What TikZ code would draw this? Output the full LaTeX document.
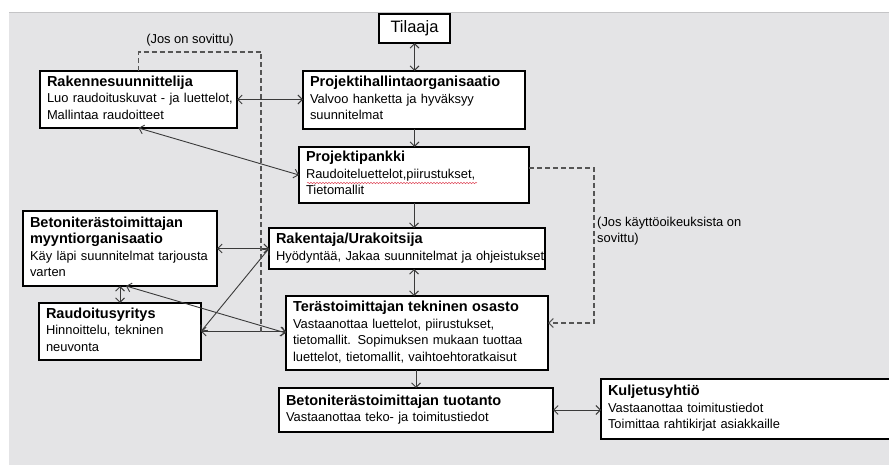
\documentclass[tikz,border=0pt]{standalone}
\usepackage{fontspec}
\setmainfont{Liberation Sans}
\usetikzlibrary{arrows.meta,calc,decorations.pathmorphing}

\definecolor{panelgray}{HTML}{E4E4E6}
\definecolor{paneledge}{HTML}{C4C4C6}
\definecolor{linkgray}{HTML}{3A3A3A}
\definecolor{dashgray}{HTML}{555555}
\definecolor{spellred}{HTML}{E05060}

\newcommand{\boxtitle}[1]{{\fontsize{14.5}{16.5}\selectfont\bfseries #1}}
% a block of lines that is never re-broken
\newcommand{\boxlines}[1]{\begin{tabular}{@{}l@{}}#1\end{tabular}}

\tikzset{
  orgbox/.style={draw=black, line width=1.8pt, fill=white, anchor=north west,
    align=left, inner xsep=7pt, inner ysep=2pt, outer sep=0pt,
    font=\fontsize{12.9}{16.5}\selectfont},
  link/.style={draw=linkgray, line width=0.9pt,
    arrows={Straight Barb[length=4.5pt,width=9pt]-Straight Barb[length=4.5pt,width=9pt]}},
  onelink/.style={draw=linkgray, line width=0.9pt,
    arrows={-Straight Barb[length=4.5pt,width=9pt]}},
  optlink/.style={draw=dashgray, line width=1.1pt, dash pattern=on 5pt off 3pt},
  note/.style={font=\fontsize{12.9}{16.5}\selectfont, align=left, inner sep=0pt}
}

\begin{document}
\begin{tikzpicture}[x=1pt, y=-1pt]
  \useasboundingbox (0,0) rectangle (889,465);
  \clip (0,0) rectangle (889,465);

  % background panel
  \fill[panelgray] (9,12) rectangle (895,470);
  \draw[paneledge, line width=1pt] (9,12.5) -- (895,12.5);

  % organisations
  \node[orgbox, text width=57pt, minimum height=29pt, align=center,
        font=\fontsize{16.5}{18}\selectfont] (tilaaja) at (379,14) {Tilaaja};
  \node[orgbox, text width=183pt, minimum height=57pt] (rakenne) at (40,71)
    {\boxlines{\boxtitle{Rakennesuunnittelija}\\Luo raudoituskuvat - ja luettelot,\\Mallintaa raudoitteet}};
  \node[orgbox, text width=208pt, minimum height=58pt] (projhall) at (303,71)
    {\boxlines{\boxtitle{Projektihallintaorganisaatio}\\Valvoo hanketta ja hyväksyy\\suunnitelmat}};
  \node[orgbox, text width=216pt, minimum height=56pt] (pankki) at (299,147)
    {\boxlines{\boxtitle{Projektipankki}\\Raudoiteluettelot,piirustukset,\\Tietomallit}};
  \node[orgbox, text width=180pt, minimum height=75pt] (myynti) at (23,211)
    {\boxlines{\boxtitle{Betoniterästoimittajan}\\\boxtitle{myyntiorganisaatio}\\Käy läpi suunnitelmat tarjousta\\varten}};
  \node[orgbox, text width=262pt, minimum height=41pt] (rakentaja) at (269,228)
    {\boxlines{\boxtitle{Rakentaja/Urakoitsija}\\Hyödyntää, Jakaa suunnitelmat ja ohjeistukset}};
  \node[orgbox, text width=148pt, minimum height=57pt] (raudoitus) at (39,303)
    {\boxlines{\boxtitle{Raudoitusyritys}\\Hinnoittelu, tekninen\\neuvonta}};
  \node[orgbox, text width=248pt, minimum height=74pt] (tekninen) at (286,296)
    {\boxlines{\boxtitle{Terästoimittajan tekninen osasto}\\Vastaanottaa luettelot, piirustukset,\\tietomallit. Sopimuksen mukaan tuottaa\\luettelot, tietomallit, vaihtoehtoratkaisut}};
  \node[orgbox, text width=260pt, minimum height=44pt] (tuotanto) at (279,388)
    {\boxlines{\boxtitle{Betoniterästoimittajan tuotanto}\\Vastaanottaa teko- ja toimitustiedot}};
  \node[orgbox, text width=280pt, minimum height=60pt] (kuljetus) at (601,379)
    {\boxlines{\boxtitle{Kuljetusyhtiö}\\Vastaanottaa toimitustiedot\\Toimittaa rahtikirjat asiakkaille}};

  % spell-check squiggle under the file list
  \draw[spellred, line width=0.5pt,
        decorate, decoration={snake, segment length=3pt, amplitude=0.7pt}]
    ($(pankki.north west)+(8,36)$) -- ($(pankki.north west)+(178,36)$);

  % information flows
  \draw[link] (tilaaja.south) -- (tilaaja.south |- projhall.north);
  \draw[onelink] (tilaaja.south |- projhall.south) -- (tilaaja.south |- pankki.north);
  \draw[link] (rakenne.east) -- (projhall.west |- rakenne.east);
  \draw[link] (rakenne.south) -- (pankki.west);
  \draw[onelink] (pankki.south) -- (pankki.south |- rakentaja.north);
  \draw[link] (pankki.south |- rakentaja.south) -- (pankki.south |- tekninen.north);
  \draw[onelink] (tekninen.south -| tuotanto.north) -- (tuotanto.north);
  \draw[link] (tuotanto.east) -- (tuotanto.east -| kuljetus.west);
  \draw[link] (myynti.east |- rakentaja.west) -- (rakentaja.west);
  \draw[link] (raudoitus.north |- myynti.south) -- (raudoitus.north);
  \draw[link] ($(myynti.south)+(6,0)$) -- (tekninen.west);
  \draw[link] (rakentaja.west) -- (raudoitus.east);
  \draw[link] (raudoitus.east) -- (tekninen.west |- raudoitus.east);

  % optional flows
  \coordinate (jostop) at (261,52);
  \draw[optlink] (rakenne.north) |- (jostop) -- (jostop |- raudoitus.east);
  \node[note, anchor=center] (josnote) at (190,40) {(Jos on sovittu)};

  \coordinate (ktop) at (594,168);
  \coordinate (kbot) at (594,323);
  \draw[optlink, arrows={-Straight Barb[length=4.5pt,width=9pt]}]
    (pankki.east |- ktop) -- (ktop) -- (kbot) -- (tekninen.east |- kbot);
  \node[note, anchor=west] (kaytto) at (597,231) {(Jos käyttöoikeuksista on\\sovittu)};
\end{tikzpicture}
\end{document}
